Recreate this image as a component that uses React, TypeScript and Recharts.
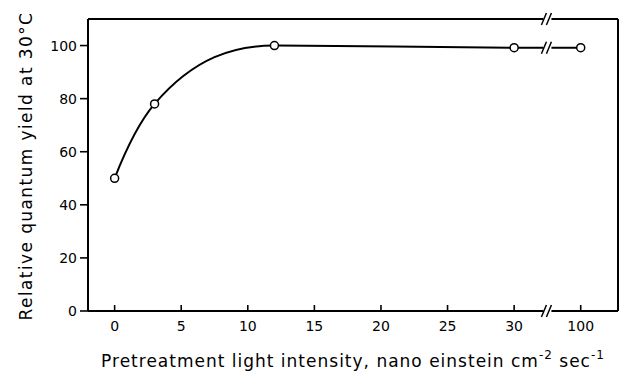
import React from 'react'
import { LineChart, Line, XAxis, YAxis, ReferenceDot } from 'recharts'

// pretreatment light intensity (nano einstein cm^-2 sec^-1)
const intensity = [0, 3, 12, 30, 100]
const relYield = [50, 78, 100, 99.2, 99.2]

const xTicks = [0, 5, 10, 15, 20, 25, 30, 35]
const xTickLabels = ['0', '5', '10', '15', '20', '25', '30', '100']
const yTicks = [0, 20, 40, 60, 80, 100]

const X_DOMAIN = [-2, 37.8]
const Y_DOMAIN = [0, 110]

// axis break: 100 is drawn where 35 would be
const BREAK_AT = 32.5
const toAxis = (v: number) => (v > BREAK_AT ? 35 : v)

const data = intensity.map((v, i) => ({ x: toAxis(v), y: relYield[i] }))

const font = '"DejaVu Sans", sans-serif'
const axisLine = { stroke: '#000', strokeWidth: 2 }
const tickLine = { stroke: '#000', strokeWidth: 1.6 }

// smooth hermite curve through the points (average-of-secants slopes, flat at extrema)
function smoothCurve(context: any) {
  let pts: number[][] = []
  return {
    areaStart() {},
    areaEnd() {},
    lineStart() {
      pts = []
    },
    point(x: number, y: number) {
      pts.push([+x, +y])
    },
    lineEnd() {
      const n = pts.length
      if (!n) return
      context.moveTo(pts[0][0], pts[0][1])
      if (n === 1) return
      const s: number[] = []
      for (let i = 0; i < n - 1; i++) {
        s.push((pts[i + 1][1] - pts[i][1]) / (pts[i + 1][0] - pts[i][0]))
      }
      const m: number[] = new Array(n)
      for (let i = 1; i < n - 1; i++) {
        m[i] = s[i - 1] * s[i] <= 0 ? 0 : (s[i - 1] + s[i]) / 2
      }
      m[0] = n > 2 ? 2 * s[0] - m[1] : s[0]
      m[n - 1] = n > 2 ? 2 * s[n - 2] - m[n - 2] : s[0]
      if (n > 2 && m[n - 1] * s[n - 2] < 0) m[n - 1] = 0
      for (let i = 0; i < n - 1; i++) {
        const [x0, y0] = pts[i]
        const [x1, y1] = pts[i + 1]
        const dx = (x1 - x0) / 3
        context.bezierCurveTo(x0 + dx, y0 + m[i] * dx, x1 - dx, y1 - m[i + 1] * dx, x1, y1)
      }
    },
  }
}

function BreakMark(props: any) {
  const { cx, cy } = props
  if (cx == null || cy == null) return <g />
  return (
    <g>
      <rect x={cx - 4} y={cy - 3} width={8} height={6} fill="#fff" />
      <line x1={cx - 6} y1={cy + 6} x2={cx - 1} y2={cy - 6} stroke="#000" strokeWidth={1.5} />
      <line x1={cx - 1} y1={cy + 6} x2={cx + 4} y2={cy - 6} stroke="#000" strokeWidth={1.5} />
    </g>
  )
}

export default function App() {
  return (
    <div style={{ position: 'absolute', left: 0, top: 0, background: '#fff' }}>
      <LineChart width={622} height={373} data={data} margin={{ top: 0, right: 0, left: 0, bottom: 0 }}>
        {/* bottom axis: inward ticks (negative size), labels below */}
        <XAxis
          dataKey="x"
          type="number"
          domain={X_DOMAIN}
          ticks={xTicks}
          interval={0}
          tickSize={-6}
          tickMargin={16}
          height={62}
          axisLine={axisLine}
          tickLine={tickLine}
          tickFormatter={(v: number) => xTickLabels[xTicks.indexOf(v)]}
          tick={{ fontSize: 14, fill: '#000', fontFamily: font }}
          label={{
            content: ({ viewBox }: any) => (
              <text
                x={viewBox.x + viewBox.width / 2}
                y={viewBox.y + 56}
                textAnchor="middle"
                fontSize={17}
                fontFamily={font}
                letterSpacing={1}
                fill="#000"
              >
                Pretreatment light intensity, nano einstein cm
                <tspan dy={-8} fontSize={12}>-2</tspan>
                <tspan dy={8}> sec</tspan>
                <tspan dy={-8} fontSize={12}>-1</tspan>
              </text>
            ),
          }}
        />
        {/* top frame with inward ticks */}
        <XAxis
          xAxisId="t"
          orientation="top"
          dataKey="x"
          type="number"
          domain={X_DOMAIN}
          ticks={xTicks}
          interval={0}
          height={19}
          tickSize={-5}
          axisLine={axisLine}
          tickLine={tickLine}
          tick={false}
        />
        <YAxis
          type="number"
          domain={Y_DOMAIN}
          ticks={yTicks}
          interval={0}
          width={88}
          tickSize={8}
          tickMargin={3}
          axisLine={axisLine}
          tickLine={tickLine}
          tick={{ fontSize: 14, fill: '#000', fontFamily: font }}
          label={{
            content: ({ viewBox }: any) => {
              const x = 32
              const y = viewBox.y + viewBox.height / 2 + 1
              return (
                <text
                  x={x}
                  y={y}
                  transform={`rotate(-90 ${x} ${y})`}
                  textAnchor="middle"
                  fontSize={17}
                  fontFamily={font}
                  letterSpacing={1.4}
                  fill="#000"
                >
                  Relative quantum yield at 30°C
                </text>
              )
            },
          }}
        />
        {/* right frame with inward ticks */}
        <YAxis
          yAxisId="r"
          orientation="right"
          type="number"
          domain={Y_DOMAIN}
          ticks={yTicks}
          interval={0}
          width={4}
          tickSize={-6}
          axisLine={axisLine}
          tickLine={tickLine}
          tick={false}
        />
        {/* same series bound to the frame axes so they get a scale */}
        <Line
          xAxisId="t"
          yAxisId="r"
          dataKey="y"
          stroke="none"
          dot={false}
          activeDot={false}
          legendType="none"
          isAnimationActive={false}
        />
        <Line
          dataKey="y"
          type={smoothCurve as any}
          stroke="#000"
          strokeWidth={2}
          dot={{ r: 4, stroke: '#000', strokeWidth: 1.5, fill: '#fff' }}
          isAnimationActive={false}
        />
        <ReferenceDot x={BREAK_AT} y={Y_DOMAIN[1]} ifOverflow="visible" shape={BreakMark} />
        <ReferenceDot x={BREAK_AT} y={Y_DOMAIN[0]} ifOverflow="visible" shape={BreakMark} />
        <ReferenceDot x={BREAK_AT} y={99.2} ifOverflow="visible" shape={BreakMark} />
      </LineChart>
    </div>
  )
}
